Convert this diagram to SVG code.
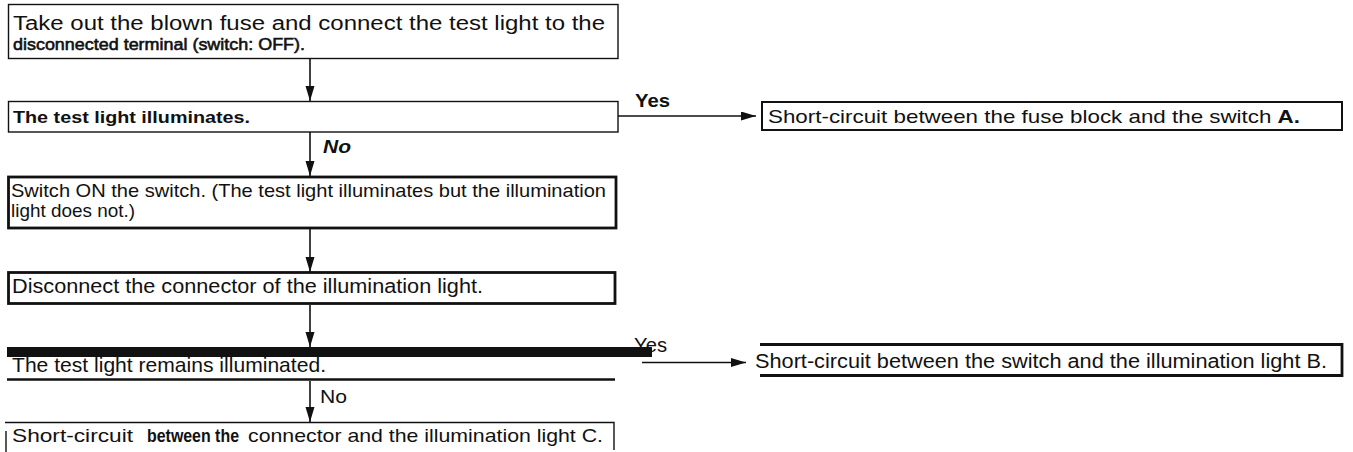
<svg xmlns="http://www.w3.org/2000/svg" width="1353" height="452" viewBox="0 0 1353 452">
<style>
text{font-family:"Liberation Sans",Arial,Helvetica,sans-serif;fill:#111;}
.b{font-weight:bold;}
.box{fill:none;stroke:#111;}
.thin{stroke-width:1.4;}
.mid{stroke-width:2;}
.thick{stroke-width:2.8;}
.conn{stroke:#111;stroke-width:1.6;fill:none;marker-end:url(#ah);}
</style>
<defs>
<marker id="ah" markerUnits="userSpaceOnUse" markerWidth="16" markerHeight="10" refX="15" refY="4.5" orient="auto">
<path d="M0,0 L15,4.5 L0,9 z" fill="#111"/>
</marker>
</defs>
<rect width="1353" height="452" fill="#fff"/>
<g id="n1">
<rect class="box thin" x="8.5" y="4.5" width="609.5" height="54"/>
<text x="13" y="30" font-size="20" textLength="592" lengthAdjust="spacingAndGlyphs">Take out the blown fuse and connect the test light to the</text>
<text x="13" y="49.5" font-size="17" stroke="#111" stroke-width="0.6" textLength="292" lengthAdjust="spacingAndGlyphs">disconnected terminal (switch: OFF).</text>
</g>
<g id="n2">
<rect class="box thin" x="8.5" y="101.5" width="609.5" height="30.5"/>
<text class="b" x="13" y="123" font-size="17" textLength="237" lengthAdjust="spacingAndGlyphs">The test light illuminates.</text>
</g>
<g id="nA">
<rect class="box mid" x="762" y="102" width="580" height="28"/>
<text x="768" y="123" font-size="19" textLength="532" lengthAdjust="spacingAndGlyphs">Short-circuit between the fuse block and the switch <tspan class="b">A.</tspan></text>
</g>
<g id="n3">
<rect class="box thick" x="8.5" y="177" width="607.5" height="51"/>
<text x="11" y="196.5" font-size="18.5" textLength="595" lengthAdjust="spacingAndGlyphs">Switch ON the switch. (The test light illuminates but the illumination</text>
<text x="11" y="217" font-size="18.5" textLength="124" lengthAdjust="spacingAndGlyphs">light does not.)</text>
</g>
<g id="n4">
<rect class="box thick" x="8.5" y="272.5" width="606.5" height="31"/>
<text x="12" y="293" font-size="20" textLength="471" lengthAdjust="spacingAndGlyphs">Disconnect the connector of the illumination light.</text>
</g>
<g id="n5">
<text x="12" y="372" font-size="21" textLength="314" lengthAdjust="spacingAndGlyphs">The test light remains illuminated.</text>
<line x1="7" y1="379.5" x2="615" y2="379.5" stroke="#111" stroke-width="2.4"/>
</g>
<g id="nB">
<path class="box thick" d="M760,344.5 H1342 V375.5 H760"/>
<text x="755" y="368" font-size="20" textLength="572" lengthAdjust="spacingAndGlyphs">Short-circuit between the switch and the illumination light B.</text>
</g>
<g id="nC">
<path class="box thin" d="M5,422.5 H614 V450"/>
<line x1="6" y1="431" x2="6" y2="452" stroke="#111" stroke-width="1.4"/>
<text x="12" y="442" font-size="19" textLength="121" lengthAdjust="spacingAndGlyphs">Short-circuit</text>
<text class="b" x="147" y="442" font-size="19" textLength="92" lengthAdjust="spacingAndGlyphs">between the</text>
<text x="248" y="442" font-size="19" textLength="355" lengthAdjust="spacingAndGlyphs">connector and the illumination light C.</text>
</g>
<g id="connectors">
<line class="conn" x1="310" y1="59" x2="310" y2="101"/>
<line class="conn" x1="310" y1="132" x2="310" y2="176"/>
<line class="conn" x1="310" y1="229" x2="310" y2="272"/>
<line class="conn" x1="310" y1="305" x2="310" y2="347"/>
<line class="conn" x1="310" y1="381" x2="310" y2="422"/>
<line class="conn" x1="618" y1="116" x2="756" y2="116"/>
<line class="conn" x1="642" y1="362.5" x2="746" y2="362.5"/>
<text class="b" x="635" y="107" font-size="19" textLength="35" lengthAdjust="spacingAndGlyphs">Yes</text>
<text class="b" x="323" y="153" font-size="19" font-style="italic" textLength="28" lengthAdjust="spacingAndGlyphs">No</text>
<text x="634" y="352" font-size="20" textLength="33" lengthAdjust="spacingAndGlyphs">Yes</text>
<text x="320" y="403" font-size="19" textLength="27" lengthAdjust="spacingAndGlyphs">No</text>
</g>
<rect x="7" y="347" width="645" height="10" fill="#111"/>
</svg>
